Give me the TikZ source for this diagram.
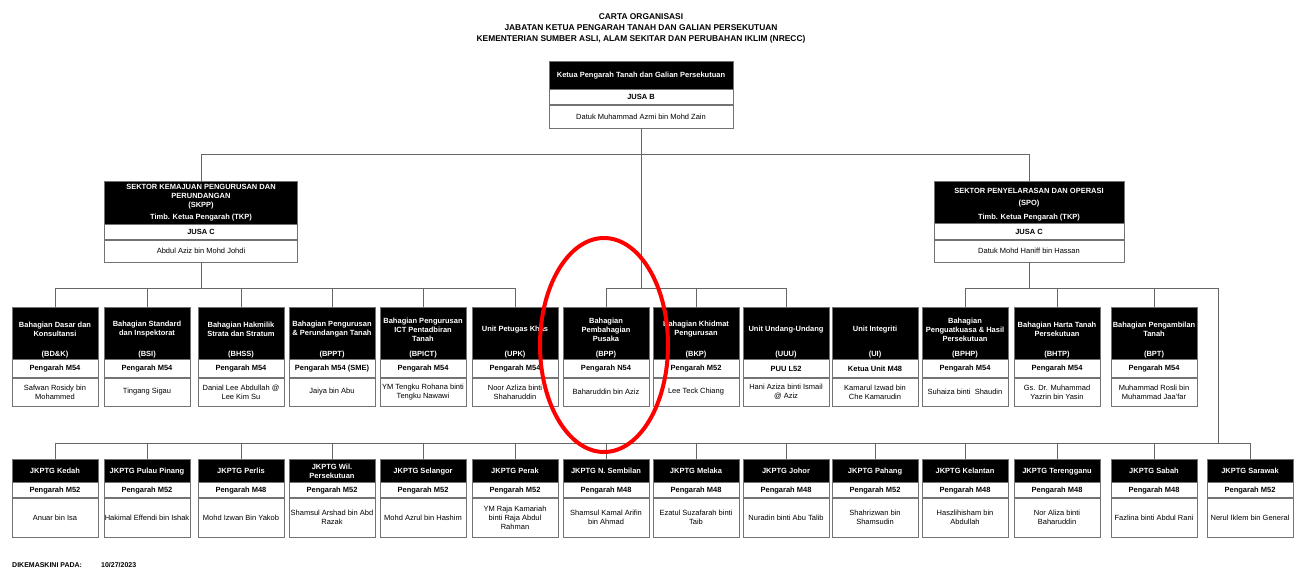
\documentclass[tikz,border=0pt]{standalone}
\usepackage{fontspec}
\setmainfont{Liberation Sans}
\usetikzlibrary{positioning}

\newcommand{\chartfont}{\fontsize{7.5}{9}\selectfont}

\tikzset{
  hdr/.style={draw=black!55, fill=black, inner sep=0pt, anchor=north},
  hdrtxt/.style={text=white, font=\chartfont\bfseries, align=center, inner sep=0pt},
  cell/.style={draw=black!55, fill=white, inner sep=0pt, align=center, font=\chartfont},
  grade/.style={cell, font=\chartfont\bfseries},
  link/.style={draw=black!60, line width=0.8pt}
}

% unit box: name, x, title, acronym, grade, person
\newcommand{\unitbox}[6]{%
  \node[hdr, minimum width=86, minimum height=52] (#1) at (#2,307) {};
  \node[hdrtxt] at ([yshift=-22.5]#1.north) {#3};
  \node[hdrtxt] at ([yshift=5]#1.south) {#4};
  \node[grade, minimum width=86, minimum height=18, below=0pt of #1] (#1-g) {#5};
  \node[cell, minimum width=86, minimum height=28, below=0pt of #1-g] (#1-n) {#6};
}
% state box: name, x, title, grade, person
\newcommand{\statebox}[5]{%
  \node[hdr, minimum width=86, minimum height=23] (#1) at (#2,459) {};
  \node[hdrtxt] at ([yshift=-0.5]#1.center) {#3};
  \node[grade, minimum width=86, minimum height=15, below=0pt of #1] (#1-g) {#4};
  \node[cell, minimum width=86, minimum height=39, below=0pt of #1-g] (#1-n) {#5};
}

\begin{document}
\begin{tikzpicture}[x=1pt, y=-1pt]
  \fill[white] (0,0) rectangle (1300,569);
  \useasboundingbox (0,0) rectangle (1300,569);

  \node[font=\fontsize{8.4}{11}\selectfont\bfseries, align=center] (title) at (641,28)
    {CARTA ORGANISASI\\JABATAN KETUA PENGARAH TANAH DAN GALIAN PERSEKUTUAN\\KEMENTERIAN SUMBER ASLI, ALAM SEKITAR DAN PERUBAHAN IKLIM (NRECC)};

  % ketua pengarah
  \node[hdr, minimum width=184, minimum height=28] (kp) at (641,61) {};
  \node[hdrtxt] at (kp.center) {Ketua Pengarah Tanah dan Galian Persekutuan};
  \node[grade, minimum width=184, minimum height=15, below=0pt of kp] (kp-g) {JUSA B};
  \node[cell, minimum width=184, minimum height=23, below=0pt of kp-g] (kp-n) {Datuk Muhammad Azmi bin Mohd Zain};

  % sektor
  \node[hdr, minimum width=193, minimum height=43] (skpp) at (201,181) {};
  \node[hdrtxt] at ([yshift=-16]skpp.north) {SEKTOR KEMAJUAN PENGURUSAN DAN\\PERUNDANGAN\\(SKPP)};
  \node[hdrtxt] at ([yshift=7]skpp.south) {Timb. Ketua Pengarah (TKP)};
  \node[grade, minimum width=193, minimum height=15, below=0pt of skpp] (skpp-g) {JUSA C};
  \node[cell, minimum width=193, minimum height=22, below=0pt of skpp-g] (skpp-n) {Abdul Aziz bin Mohd Johdi};

  \node[hdr, minimum width=190, minimum height=42] (spo) at (1029,181) {};
  \node[hdrtxt] at ([yshift=-10]spo.north) {SEKTOR PENYELARASAN DAN OPERASI};
  \node[hdrtxt] at ([yshift=-23]spo.north) {(SPO)};
  \node[hdrtxt] at ([yshift=6]spo.south) {Timb. Ketua Pengarah (TKP)};
  \node[grade, minimum width=190, minimum height=16, below=0pt of spo] (spo-g) {JUSA C};
  \node[cell, minimum width=190, minimum height=22, below=0pt of spo-g] (spo-n) {Datuk Mohd Haniff bin Hassan};

  % bahagian / unit
  \unitbox{bdk}{55}{Bahagian Dasar dan\\Konsultansi}{(BD\&K)}{Pengarah M54}{Safwan Rosidy bin\\Mohammed}
  \unitbox{bsi}{147}{Bahagian Standard\\dan Inspektorat}{(BSI)}{Pengarah M54}{Tingang Sigau}
  \unitbox{bhss}{241}{Bahagian Hakmilik\\Strata dan Stratum}{(BHSS)}{Pengarah M54}{Danial Lee Abdullah @\\Lee Kim Su}
  \unitbox{bppt}{332}{Bahagian Pengurusan\\\& Perundangan Tanah}{(BPPT)}{Pengarah M54 (SME)}{Jaiya bin Abu}
  \unitbox{bpict}{423}{Bahagian Pengurusan\\ICT Pentadbiran\\Tanah}{(BPICT)}{Pengarah M54}{YM Tengku Rohana binti\\Tengku Nawawi}
  \unitbox{upk}{515}{Unit Petugas Khas}{(UPK)}{Pengarah M54}{Noor Azliza binti\\Shaharuddin}
  \unitbox{bpp}{606}{Bahagian\\Pembahagian\\Pusaka}{(BPP)}{Pengarah N54}{Baharuddin bin Aziz}
  \unitbox{bkp}{696}{Bahagian Khidmat\\Pengurusan}{(BKP)}{Pengarah M52}{Lee Teck Chiang}
  \unitbox{uuu}{786}{Unit Undang-Undang}{(UUU)}{PUU L52}{Hani Aziza binti Ismail\\@ Aziz}
  \unitbox{ui}{875}{Unit Integriti}{(UI)}{Ketua Unit M48}{Kamarul Izwad bin\\Che Kamarudin}
  \unitbox{bphp}{965}{Bahagian\\Penguatkuasa \& Hasil\\Persekutuan}{(BPHP)}{Pengarah M54}{Suhaiza binti\ \ Shaudin}
  \unitbox{bhtp}{1057}{Bahagian Harta Tanah\\Persekutuan}{(BHTP)}{Pengarah M54}{Gs. Dr. Muhammad\\Yazrin bin Yasin}
  \unitbox{bpt}{1154}{Bahagian Pengambilan\\Tanah}{(BPT)}{Pengarah M54}{Muhammad Rosli bin\\Muhammad Jaa'far}

  % negeri
  \statebox{kedah}{55}{JKPTG Kedah}{Pengarah M52}{Anuar bin Isa}
  \statebox{penang}{147}{JKPTG Pulau Pinang}{Pengarah M52}{Hakimal Effendi bin Ishak}
  \statebox{perlis}{241}{JKPTG Perlis}{Pengarah M48}{Mohd Izwan Bin Yakob}
  \statebox{wp}{332}{JKPTG Wil.\\Persekutuan}{Pengarah M52}{Shamsul Arshad bin Abd\\Razak}
  \statebox{selangor}{423}{JKPTG Selangor}{Pengarah M52}{Mohd Azrul bin Hashim}
  \statebox{perak}{515}{JKPTG Perak}{Pengarah M52}{YM Raja Kamariah\\binti Raja Abdul\\Rahman}
  \statebox{nsembilan}{606}{JKPTG N. Sembilan}{Pengarah M48}{Shamsul Kamal Arifin\\bin Ahmad}
  \statebox{melaka}{696}{JKPTG Melaka}{Pengarah M48}{Ezatul Suzafarah binti\\Taib}
  \statebox{johor}{786}{JKPTG Johor}{Pengarah M48}{Nuradin binti Abu Talib}
  \statebox{pahang}{875}{JKPTG Pahang}{Pengarah M52}{Shahrizwan bin\\Shamsudin}
  \statebox{kelantan}{965}{JKPTG Kelantan}{Pengarah M48}{Haszlihisham bin\\Abdullah}
  \statebox{terengganu}{1057}{JKPTG Terengganu}{Pengarah M48}{Nor Aliza binti\\Baharuddin}
  \statebox{sabah}{1154}{JKPTG Sabah}{Pengarah M48}{Fazlina binti Abdul Rani}
  \statebox{sarawak}{1250}{JKPTG Sarawak}{Pengarah M52}{Nerul Iklem bin General}

  % connectors
  \coordinate (top) at (641,154);
  \coordinate (midrow) at (0,288);
  \coordinate (lowrow) at (0,443);
  \coordinate (turn) at (1218,288);

  \draw[link] (kp-n.south) -- (kp-n.south |- midrow);
  \draw[link] (skpp.north) -- (skpp.north |- top) -- (spo.north |- top) -- (spo.north);
  \draw[link] (skpp-n.south) -- (skpp-n.south |- midrow);
  \draw[link] (spo-n.south) -- (spo-n.south |- midrow);
  \draw[link] (bdk.north |- midrow) -- (upk.north |- midrow);
  \draw[link] (bpp.north |- midrow) -- (uuu.north |- midrow);
  \draw[link] (bphp.north |- midrow) -- (turn) -- (turn |- lowrow);
  \draw[link] (kedah.north |- lowrow) -- (sarawak.north |- lowrow);
  \foreach \u in {bdk,bsi,bhss,bppt,bpict,upk,bpp,bkp,uuu,bphp,bhtp,bpt}
    \draw[link] (\u.north) -- (\u.north |- midrow);
  \foreach \s in {kedah,penang,perlis,wp,selangor,perak,nsembilan,melaka,johor,pahang,kelantan,terengganu,sabah,sarawak}
    \draw[link] (\s.north) -- (\s.north |- lowrow);

  \node[font=\fontsize{7}{8}\selectfont\bfseries, anchor=west, inner sep=0pt] (upd) at (12,565) {DIKEMASKINI PADA:};
  \node[font=\fontsize{7}{8}\selectfont\bfseries, anchor=west, inner sep=0pt] (date) at (101,565) {10/27/2023};

  \draw[red, line width=4] (604,345) ellipse (64pt and 107pt);
\end{tikzpicture}
\end{document}
